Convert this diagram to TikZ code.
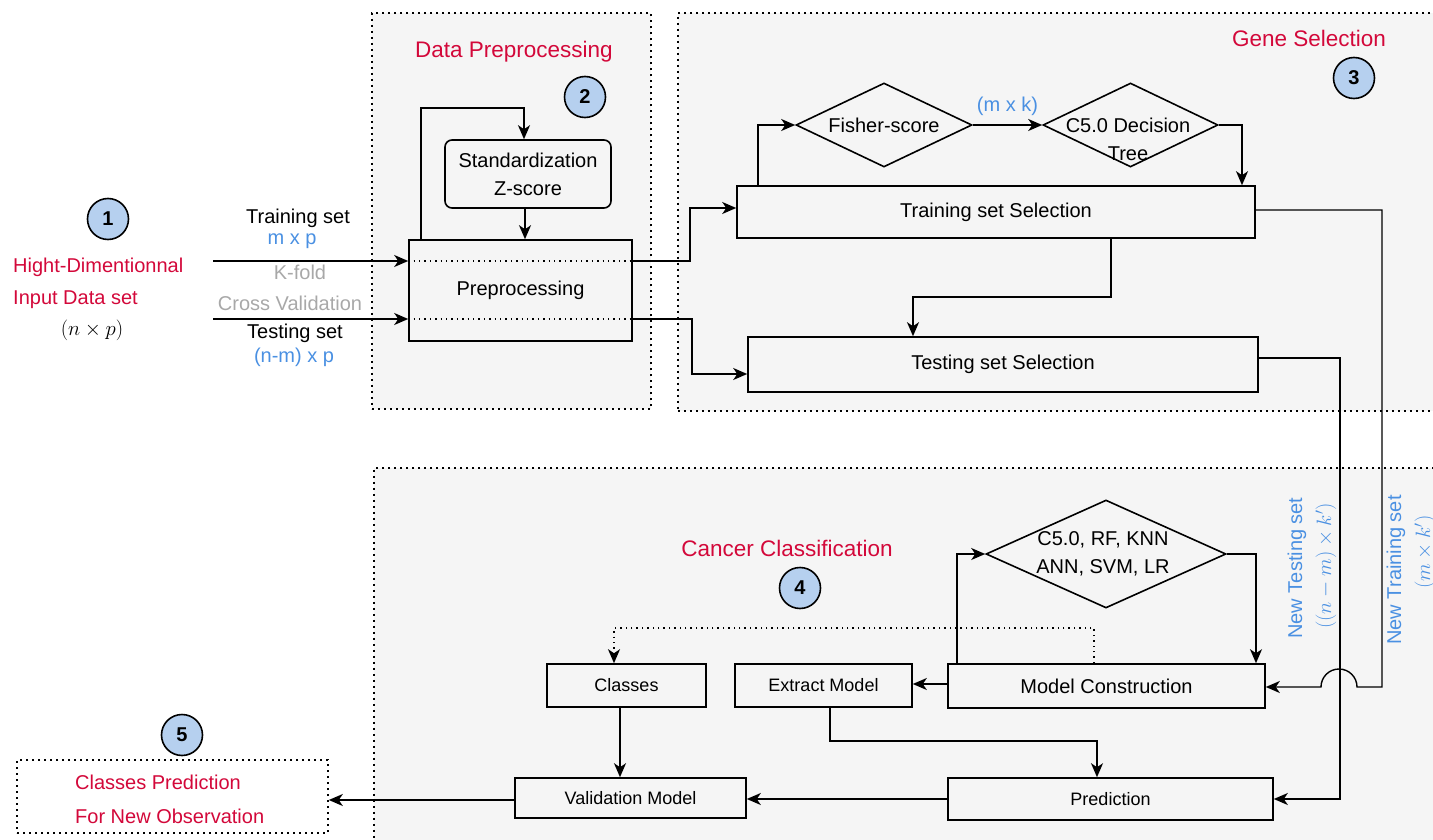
\documentclass[tikz,border=0pt]{standalone}
\usepackage[no-math]{fontspec}
\setmainfont{Liberation Sans}
\usetikzlibrary{arrows.meta,shapes.geometric}
\definecolor{secfill}{HTML}{F5F5F5}
\definecolor{titlered}{HTML}{D3083A}
\definecolor{dimblue}{HTML}{4A90E2}
\definecolor{softgray}{HTML}{A8A8A8}
\definecolor{badgefill}{HTML}{B6D0EF}
\newcommand{\bigtxt}{\fontsize{20}{24}\selectfont}
\newcommand{\midtxt}{\fontsize{18}{22}\selectfont}
\newcommand{\ttltxt}{\fontsize{22.5}{27}\selectfont}
\begin{document}
\begin{tikzpicture}[x=1pt,y=-1pt,
  section/.style={draw, fill=secfill, line width=1.6pt, dash pattern=on 1.6pt off 4.4pt, inner sep=0pt},
  stagebox/.style={draw, line width=1.6pt, inner sep=0pt, font=\bigtxt},
  smallbox/.style={draw, line width=1.6pt, inner sep=0pt, font=\midtxt},
  choice/.style={draw, diamond, line width=1.6pt, inner sep=0pt},
  badge/.style={draw, circle, fill=badgefill, line width=1.6pt, minimum size=41pt, inner sep=0pt, font=\bigtxt\bfseries},
  label/.style={inner sep=0pt, font=\bigtxt},
  title/.style={inner sep=0pt, font=\ttltxt, text=titlered},
  conn/.style={line width=1.4pt, -{Stealth[length=14pt,width=12pt,inset=4pt]}},
  inner dots/.style={line width=1.4pt, dash pattern=on 1.4pt off 4pt}
]
\useasboundingbox (0,0) rectangle (1433,840);

% ---- stage frames ----
\node[section, minimum width=279pt, minimum height=396pt] (fpre) at (511.5,211) {};
\node[section, minimum width=765pt, minimum height=398pt] (fgene) at (1060.5,212) {};
\node[section, minimum width=1069pt, minimum height=380pt] (fclass) at (908.5,658) {};
\node[section, fill=white, minimum width=311pt, minimum height=73pt] (out) at (172.5,796.5) {};

% ---- stage 1: input ----
\node[badge] (b1) at (108,219) {1};
\node[label, anchor=west, text=titlered] (in1) at (13,267) {Hight-Dimentionnal};
\node[label, anchor=west, text=titlered] (in2) at (13,300) {Input Data set};
\node[label] (in3) at (92,330) {$(n\times p)$};

\node[label] (ltr) at (298,218) {Training set};
\node[label, text=dimblue] (ltrd) at (292,241) {m x p};
\node[label, text=softgray] (lkf) at (300,272) {K-fold};
\node[label, text=softgray] (lcv) at (290,303) {Cross Validation};
\node[label] (lts) at (295,333) {Testing set};
\node[label, text=dimblue] (ltsd) at (294,357) {(n-m) x p};

% ---- stage 2: preprocessing ----
\node[title] (t2) at (514,52) {Data Preprocessing};
\node[badge] (b2) at (585,97) {2};
\node[stagebox, minimum width=223pt, minimum height=101pt] (pre) at (520.5,290.5) {Preprocessing};
\node[stagebox, rounded corners=7pt, minimum width=166pt, minimum height=68pt, align=center] (std) at (528,174)
  {Standardization\\[4pt]Z-score};

\coordinate (trin) at (213,261);
\coordinate (tsin) at (213,319);
\draw[inner dots] (pre.west |- trin) -- (pre.east |- trin);
\draw[inner dots] (pre.west |- tsin) -- (pre.east |- tsin);
\draw[conn] (trin) -- (pre.west |- trin);
\draw[conn] (tsin) -- (pre.west |- tsin);
\draw[conn] (pre.north -| 421,0) -- (421,108) -| (std.north -| 524,0);
\draw[conn] (std.south -| 525,0) -- (pre.north -| 525,0);

% ---- stage 3: gene selection ----
\node[title] (t3) at (1309,38) {Gene Selection};
\node[badge] (b3) at (1354,78) {3};
\node[stagebox, minimum width=518pt, minimum height=52pt] (trsel) at (996,212) {Training set Selection};
\node[stagebox, minimum width=510pt, minimum height=55pt] (tssel) at (1003,364.5) {Testing set Selection};
\node[choice, minimum width=176pt, minimum height=84pt] (fisher) at (884,125) {};
\node[label] (fishert) at (884,125) {Fisher-score};
\node[choice, minimum width=175pt, minimum height=84pt] (c50) at (1130.5,125) {};
\node[label, align=center] (c50t) at (1128,139) {C5.0 Decision\\[4pt]Tree};

\draw[conn] (pre.east |- trin) -- (690,261) |- (trsel.west |- 0,208);
\draw[conn] (pre.east |- tsin) -- (692,319) |- (tssel.west |- 0,374);
\draw[conn] (trsel.north -| 758,0) |- (fisher.west);
\draw[conn] (fisher.east) -- node[label, text=dimblue, above=9pt] (mxk) {(m x k)} (c50.west);
\draw[conn] (c50.east) -| (trsel.north -| 1242,0);
\draw[conn] (trsel.south -| 1111,0) -- (1111,297) -| (tssel.north -| 913,0);

% ---- links into the classification stage ----
\node[label, rotate=90, text=dimblue] (ntest) at (1297,568) {New Testing set};
\node[label, rotate=90, text=dimblue] (ntestm) at (1326,566) {$((n-m)\times k')$};
\node[label, rotate=90, text=dimblue] (ntrain) at (1396,570) {New Training set};
\node[label, rotate=90, text=dimblue] (ntrainm) at (1425,552) {$(m\times k')$};

% ---- stage 4: classification ----
\node[title] (t4) at (787,548) {Cancer Classification};
\node[badge] (b4) at (800,588) {4};
\node[choice, minimum width=240pt, minimum height=108pt] (alg) at (1106,554) {};
\node[label, align=center] (algt) at (1103,554) {C5.0, RF, KNN\\[4pt]ANN, SVM, LR};
\node[stagebox, minimum width=317pt, minimum height=44pt] (mc) at (1106.5,686) {Model Construction};
\node[smallbox, minimum width=177pt, minimum height=43pt] (ext) at (823.5,685.5) {Extract Model};
\node[smallbox, minimum width=159pt, minimum height=43pt] (cls) at (626.5,685.5) {Classes};
\node[smallbox, minimum width=231pt, minimum height=40pt] (val) at (630.5,798) {Validation Model};
\node[smallbox, minimum width=325pt, minimum height=42pt] (pred) at (1110.5,799) {Prediction};

\draw[conn] (trsel.east |- 0,210) -| (1382,687) -- (1357,687)
  arc[start angle=0, end angle=180, radius=18pt] -- (mc.east |- 0,687);
\draw[conn] (tssel.east |- 0,358) -| (1340,799) -- (pred.east |- 0,799);

\draw[conn] (mc.north -| 957,0) |- (alg.west);
\draw[conn] (alg.east) -| (mc.north -| 1256,0);
\draw[conn] (mc.west |- 0,684) -- (ext.east |- 0,684);
\draw[line width=1.4pt, dash pattern=on 1.4pt off 4pt, -{Stealth[length=14pt,width=12pt,inset=4pt]}]
  (mc.north -| 1094,0) -- (1094,628) -| (cls.north -| 614,0);
\draw[conn] (cls.south -| 620,0) -- (val.north -| 620,0);
\draw[conn] (ext.south -| 830,0) -- (830,741) -| (pred.north -| 1097,0);
\draw[conn] (pred.west |- 0,799) -- (val.east |- 0,799);

% ---- stage 5: output ----
\node[badge] (b5) at (182,735) {5};
\node[label, anchor=west, text=titlered] (o1) at (75,782) {Classes Prediction};
\node[label, anchor=west, text=titlered] (o2) at (75,816) {For New Observation};
\draw[conn] (val.west |- 0,800) -- (out.east |- 0,800);
\end{tikzpicture}
\end{document}
